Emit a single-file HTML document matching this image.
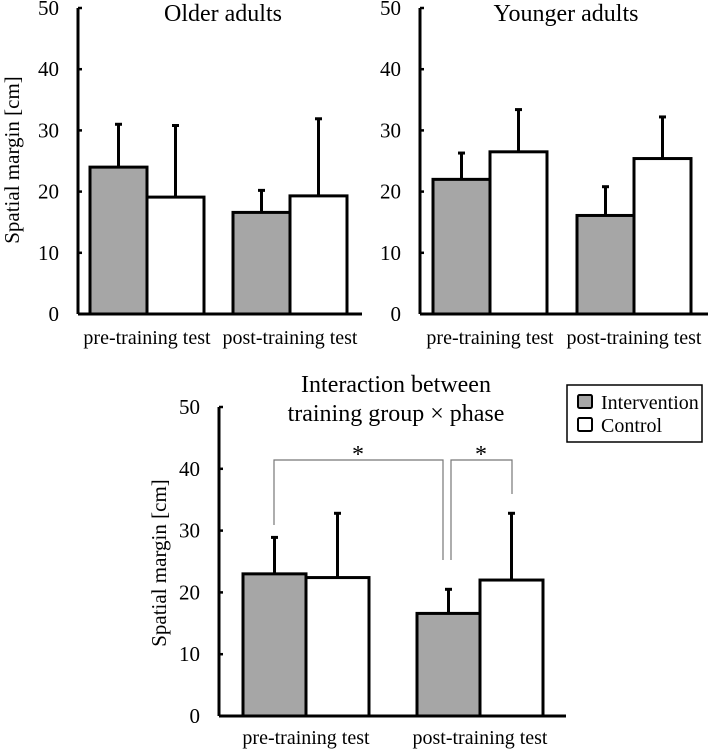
<!DOCTYPE html>
<html><head><meta charset="utf-8"><style>
body{margin:0;background:#fff}
svg,svg text{font-family:"Liberation Serif",serif}
</style></head><body>
<svg id="c" width="708" height="750" xmlns="http://www.w3.org/2000/svg">
<g id="legend">
<rect x="567" y="385" width="135" height="57" fill="#fff" stroke="#000" stroke-width="1.5"/>
<rect x="578" y="395" width="14" height="13" rx="1.5" fill="#a6a6a6" stroke="#000" stroke-width="2"/>
<text x="601" y="409" font-size="20" font-family="Liberation Serif, serif">Intervention</text>
<rect x="578" y="418" width="14" height="13" rx="1.5" fill="#fff" stroke="#000" stroke-width="2"/>
<text x="601" y="432" font-size="20" font-family="Liberation Serif, serif">Control</text>
</g>
</svg>
<script>
const categories=["pre-training test","post-training test"];
const series=["Intervention","Control"];
const olderMean=[24.0,19.1,16.6,19.3];
const olderErr=[31.0,30.8,20.2,31.9];
const youngerMean=[22.0,26.5,16.1,25.4];
const youngerErr=[26.3,33.4,20.8,32.2];
const allMean=[23.0,22.4,16.6,22.0];
const allErr=[28.9,32.8,20.5,32.8];
const yTicks=[0,10,20,30,40,50];
const NS="http://www.w3.org/2000/svg";
const FF="Liberation Serif, serif";
const svg=document.getElementById('c');
function mk(tag,attrs,parent){const e=document.createElementNS(NS,tag);for(const k in attrs)e.setAttribute(k,attrs[k]);(parent||svg).appendChild(e);return e;}
function panel(p){
 const g=mk('g',{});
 
 
 const y=v=>p.y0-(p.y0-p.y50)*v/50;
 const axY=mk('line',{x1:p.ax,y1:p.y50,x2:p.ax,y2:p.y0,stroke:'#000','stroke-width':3},g);
 
 
 const axX=mk('line',{x1:p.ax,y1:p.y0,x2:p.axEnd,y2:p.y0,stroke:'#000','stroke-width':3},g);
 
 
 yTicks.forEach(t=>{
  const tk=mk('line',{x1:p.ax,y1:y(t),x2:p.ax+4,y2:y(t),stroke:'#000','stroke-width':2.5},g);
  
  
  const tl=mk('text',{x:p.ax-19,y:y(t)+7,'font-size':21,'font-family':FF,'text-anchor':'end'},g);
  tl.textContent=t;
  
  
 });
 p.mean.forEach((m,i)=>{
  const x=p.bx[i], w=p.bw;
  const e=p.err[i];
  const el=mk('line',{x1:x+w/2,y1:y(m),x2:x+w/2,y2:y(e),stroke:'#000','stroke-width':3},g);
  
  
  const ec=mk('line',{x1:x+w/2-3.5,y1:y(e),x2:x+w/2+3.5,y2:y(e),stroke:'#000','stroke-width':3},g);
  
  
  const r=mk('rect',{x:x,y:y(m),width:w,height:p.y0-y(m),fill:i%2===0?'#a6a6a6':'#fff',stroke:'#000','stroke-width':3},g);
  
  
 });
 categories.forEach((c,i)=>{
  const cx=p.bx[i*2]+p.bw;
  const t=mk('text',{x:cx,y:p.y0+p.labOff,'font-size':20,'font-family':FF,'text-anchor':'middle'},g);
  t.textContent=c;
  
  
 });
 if(p.title){
  const t=mk('text',{x:p.tx,y:21,'font-size':24,'font-family':FF,'text-anchor':'middle'},g);
  t.textContent=p.title;
  
  
 }
 if(p.ylab){
  const t=mk('text',{x:0,y:0,'font-size':21,'font-family':FF,'text-anchor':'middle',transform:`translate(${p.ylab[0]},${p.ylab[1]}) rotate(-90)`},g);
  t.textContent='Spatial margin [cm]';
  
  
 }
 return y;
}
panel({name:'older-adults-panel',ax:78,axEnd:362,y0:314,y50:8,bx:[90,147,233,290],bw:57,mean:olderMean,err:olderErr,labOff:30,title:'Older adults',tx:223,ylab:[19,160]});
panel({name:'younger-adults-panel',ax:420,axEnd:708,y0:314,y50:8,bx:[433,490,577,634],bw:57,mean:youngerMean,err:youngerErr,labOff:30,title:'Younger adults',tx:566});
panel({name:'interaction-panel',ax:219,axEnd:566,y0:716,y50:407,bx:[243,306,417,480],bw:63,mean:allMean,err:allErr,labOff:28,ylab:[166,563]});
svg.appendChild(document.getElementById('legend'));
[['Interaction between',392],['training group × phase',421]].forEach(([s,yy])=>{
 const t=mk('text',{x:396,y:yy,'font-size':24,'font-family':FF,'text-anchor':'middle'});
 t.textContent=s;
 
 
});
const b1=mk('polyline',{points:'274,525 274,460 443,460 443,560',fill:'none',stroke:'#777','stroke-width':1.2});


const b2=mk('polyline',{points:'451,560 451,460 512,460 512,494',fill:'none',stroke:'#777','stroke-width':1.2});


[358,481].forEach(x=>{
 const t=mk('text',{x:x,y:462,'font-size':24,'font-family':FF,'text-anchor':'middle'});
 t.textContent='*';
 
 
});
</script>
</body></html>
